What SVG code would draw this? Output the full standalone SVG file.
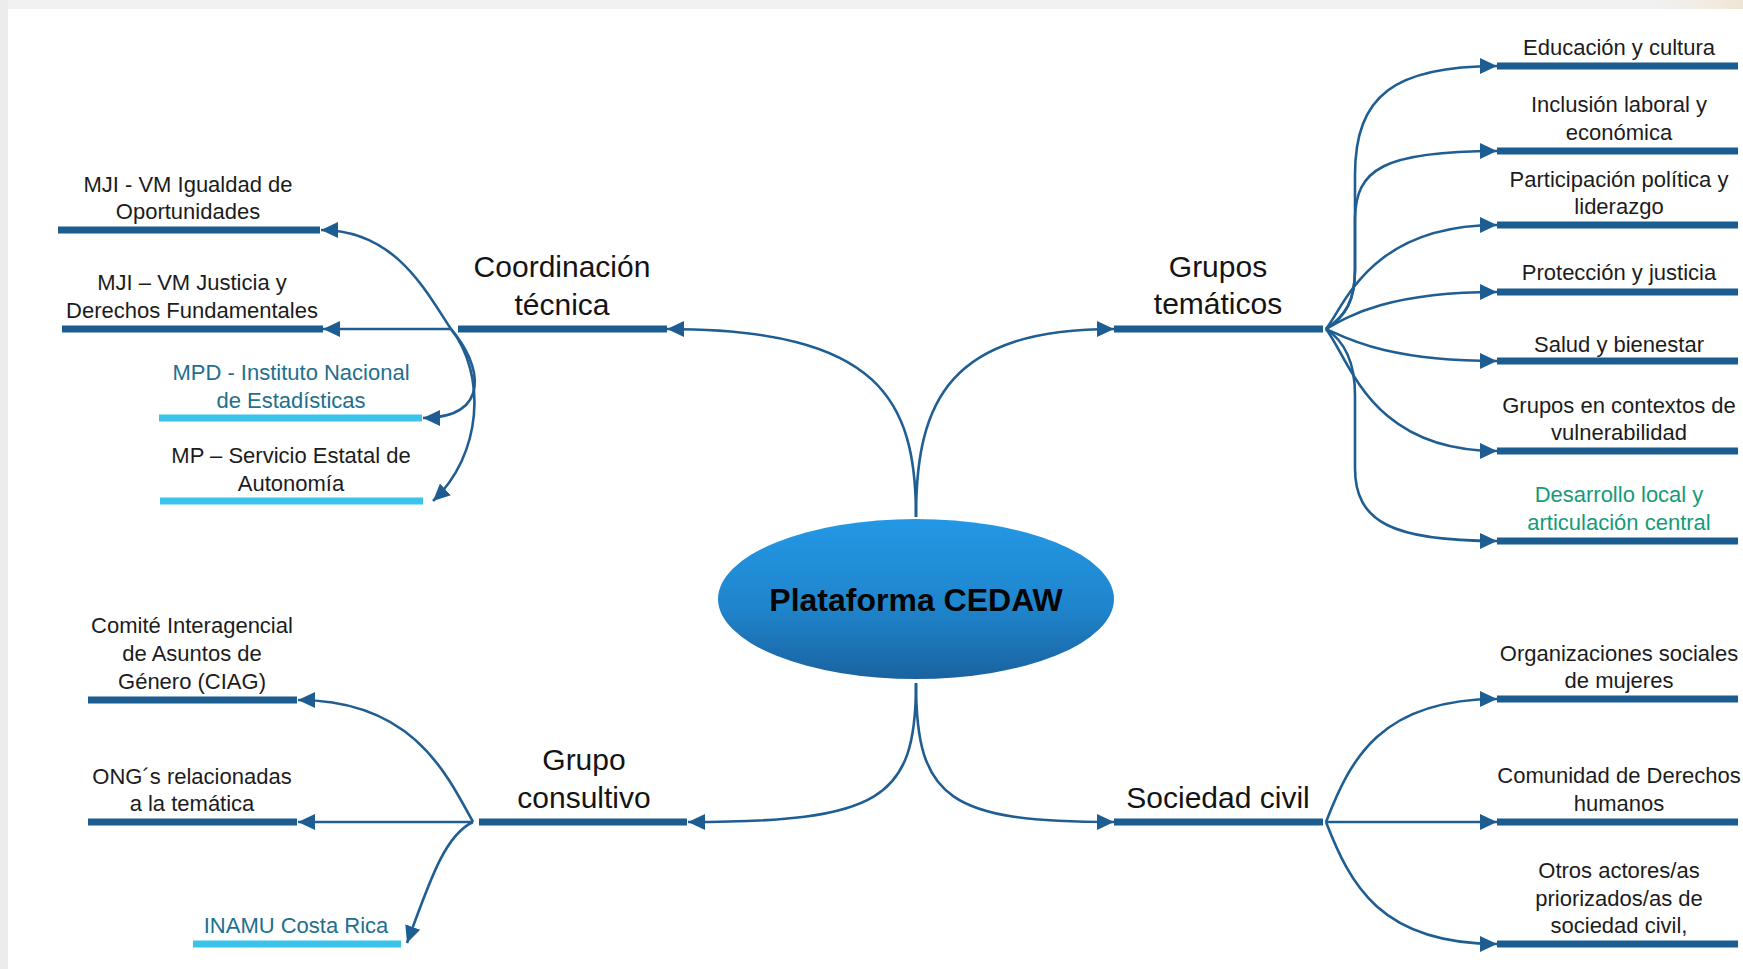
<svg xmlns="http://www.w3.org/2000/svg" width="1743" height="969" viewBox="0 0 1743 969">
<defs>
<linearGradient id="ell" x1="0" y1="0" x2="0" y2="1">
<stop offset="0" stop-color="#2398e6"/>
<stop offset="0.55" stop-color="#1f85cc"/>
<stop offset="1" stop-color="#1a62a0"/>
</linearGradient>
<linearGradient id="beige" x1="0" y1="0" x2="1" y2="0">
<stop offset="0" stop-color="#f4efe8" stop-opacity="0"/>
<stop offset="1" stop-color="#efe4d4"/>
</linearGradient>
<marker id="ah" markerUnits="userSpaceOnUse" markerWidth="18" markerHeight="16" refX="17" refY="8" orient="auto">
<path d="M0,0 L17,8 L0,16 z" fill="#1d5d92"/>
</marker>
<style>
.bar{stroke:#1b5d91;stroke-width:7;fill:none}
.lbar{stroke:#3bc3eb;stroke-width:7;fill:none}
.con{stroke:#1f5e93;stroke-width:2.6;fill:none;marker-end:url(#ah)}
.t{font-family:"Liberation Sans",Arial,sans-serif;font-size:22px;fill:#1c1c1c;text-anchor:middle}
.h{font-family:"Liberation Sans",Arial,sans-serif;font-size:30px;fill:#141414;text-anchor:middle}
.teal{fill:#236f8d}
.green{fill:#169b78}
.main{font-family:"Liberation Sans",Arial,sans-serif;font-size:32px;font-weight:bold;fill:#050505;text-anchor:middle}
</style>
</defs>
<rect x="0" y="0" width="1743" height="969" fill="#ffffff"/>
<rect x="0" y="0" width="1743" height="9" fill="#f1f1f1"/>
<rect x="0" y="0" width="8" height="969" fill="#ececec"/>
<rect x="1640" y="0" width="103" height="9" fill="url(#beige)"/>

<g id="connectors">
<path class="con" d="M916,517 C916,400 880,329 667,329"/>
<path class="con" d="M916,517 C916,400 950,329 1114,329"/>
<path class="con" d="M916,683 C916,800 880,822 688,822"/>
<path class="con" d="M916,683 C916,800 950,822 1114,822"/>

<path class="con" d="M451,329 C425,290 395,230 321,230"/>
<path class="con" d="M451,329 L323,329"/>
<path class="con" d="M451,329 C482,365 492,418 423,418"/>
<path class="con" d="M451,329 C487,375 482,455 433,501"/>

<path class="con" d="M473,822 C445,770 410,700 298,700"/>
<path class="con" d="M473,822 L298,822"/>
<path class="con" d="M473,822 C445,835 430,880 407,943"/>

<path class="con" d="M1326,329 C1346,316 1355,300 1355,270 L1355,175 C1355,95 1395,66 1497,66"/>
<path class="con" d="M1326,329 C1346,316 1355,300 1355,270 L1355,218 C1356,170 1382,151 1497,151"/>
<path class="con" d="M1326,329 C1345,305 1370,225 1497,225"/>
<path class="con" d="M1326,329 C1350,315 1390,292 1497,292"/>
<path class="con" d="M1326,329 C1350,340 1390,361 1497,361"/>
<path class="con" d="M1326,329 C1350,360 1370,451 1497,451"/>
<path class="con" d="M1326,329 C1346,342 1355,365 1355,395 L1355,468 C1355,522 1392,541 1497,541"/>

<path class="con" d="M1326,822 C1350,760 1380,699 1497,699"/>
<path class="con" d="M1326,822 L1497,822"/>
<path class="con" d="M1326,822 C1350,884 1380,944 1497,944"/>
</g>

<g id="center">
<ellipse cx="916" cy="599" rx="198" ry="80" fill="url(#ell)"/>
<text class="main" x="916" y="611">Plataforma CEDAW</text>
</g>

<g id="coordinacion">
<line class="bar" x1="458" y1="329" x2="667" y2="329"/>
<text class="h" x="562" y="277">Coordinación</text>
<text class="h" x="562" y="315">técnica</text>
</g>
<g id="grupos-tematicos">
<line class="bar" x1="1114" y1="329" x2="1323" y2="329"/>
<text class="h" x="1218" y="277">Grupos</text>
<text class="h" x="1218" y="314">temáticos</text>
</g>
<g id="grupo-consultivo">
<line class="bar" x1="479" y1="822" x2="687" y2="822"/>
<text class="h" x="584" y="770">Grupo</text>
<text class="h" x="584" y="808">consultivo</text>
</g>
<g id="sociedad-civil">
<line class="bar" x1="1114" y1="822" x2="1323" y2="822"/>
<text class="h" x="1218" y="808">Sociedad civil</text>
</g>

<g id="mji-igualdad">
<line class="bar" x1="58" y1="230" x2="320" y2="230"/>
<text class="t" x="188" y="192">MJI - VM Igualdad de</text>
<text class="t" x="188" y="219">Oportunidades</text>
</g>
<g id="mji-justicia">
<line class="bar" x1="62" y1="329" x2="323" y2="329"/>
<text class="t" x="192" y="290">MJI – VM Justicia y</text>
<text class="t" x="192" y="318">Derechos Fundamentales</text>
</g>
<g id="mpd-ine">
<line class="lbar" x1="159" y1="418" x2="422" y2="418"/>
<text class="t teal" x="291" y="380">MPD - Instituto Nacional</text>
<text class="t teal" x="291" y="408">de Estadísticas</text>
</g>
<g id="mp-servicio">
<line class="lbar" x1="160" y1="501" x2="423" y2="501"/>
<text class="t" x="291" y="463">MP – Servicio Estatal de</text>
<text class="t" x="291" y="491">Autonomía</text>
</g>

<g id="ciag">
<line class="bar" x1="88" y1="700" x2="297" y2="700"/>
<text class="t" x="192" y="633">Comité Interagencial</text>
<text class="t" x="192" y="661">de Asuntos de</text>
<text class="t" x="192" y="689">Género (CIAG)</text>
</g>
<g id="ong">
<line class="bar" x1="88" y1="822" x2="297" y2="822"/>
<text class="t" x="192" y="784">ONG´s relacionadas</text>
<text class="t" x="192" y="811">a la temática</text>
</g>
<g id="inamu">
<line class="lbar" x1="193" y1="944" x2="401" y2="944"/>
<text class="t teal" x="296" y="933">INAMU Costa Rica</text>
</g>

<g id="educacion">
<line class="bar" x1="1497" y1="66" x2="1738" y2="66"/>
<text class="t" x="1619" y="55">Educación y cultura</text>
</g>
<g id="inclusion">
<line class="bar" x1="1497" y1="151" x2="1738" y2="151"/>
<text class="t" x="1619" y="112">Inclusión laboral y</text>
<text class="t" x="1619" y="140">económica</text>
</g>
<g id="participacion">
<line class="bar" x1="1497" y1="225" x2="1738" y2="225"/>
<text class="t" x="1619" y="187">Participación política y</text>
<text class="t" x="1619" y="214">liderazgo</text>
</g>
<g id="proteccion">
<line class="bar" x1="1497" y1="292" x2="1738" y2="292"/>
<text class="t" x="1619" y="280">Protección y justicia</text>
</g>
<g id="salud">
<line class="bar" x1="1497" y1="361" x2="1738" y2="361"/>
<text class="t" x="1619" y="352">Salud y bienestar</text>
</g>
<g id="vulnerabilidad">
<line class="bar" x1="1497" y1="451" x2="1738" y2="451"/>
<text class="t" x="1619" y="413">Grupos en contextos de</text>
<text class="t" x="1619" y="440">vulnerabilidad</text>
</g>
<g id="desarrollo">
<line class="bar" x1="1497" y1="541" x2="1738" y2="541"/>
<text class="t green" x="1619" y="502">Desarrollo local y</text>
<text class="t green" x="1619" y="530">articulación central</text>
</g>

<g id="organizaciones">
<line class="bar" x1="1497" y1="699" x2="1738" y2="699"/>
<text class="t" x="1619" y="661">Organizaciones sociales</text>
<text class="t" x="1619" y="688">de mujeres</text>
</g>
<g id="comunidad">
<line class="bar" x1="1497" y1="822" x2="1738" y2="822"/>
<text class="t" x="1619" y="783">Comunidad de Derechos</text>
<text class="t" x="1619" y="811">humanos</text>
</g>
<g id="otros">
<line class="bar" x1="1497" y1="944" x2="1738" y2="944"/>
<text class="t" x="1619" y="878">Otros actores/as</text>
<text class="t" x="1619" y="906">priorizados/as de</text>
<text class="t" x="1619" y="933">sociedad civil,</text>
</g>
</svg>
